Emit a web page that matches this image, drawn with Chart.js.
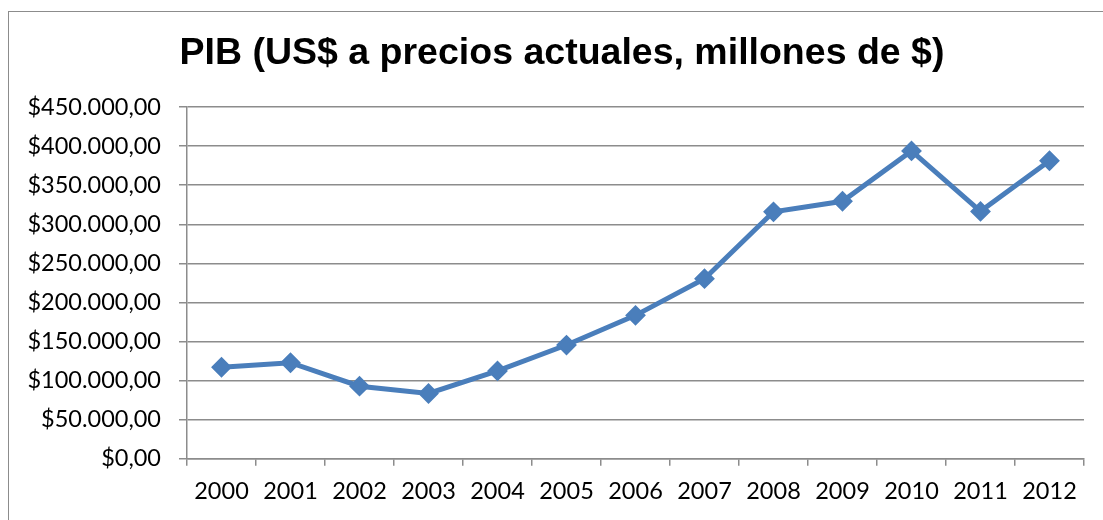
<!DOCTYPE html>
<html>
<head>
<meta charset="utf-8">
<script src="https://cdn.jsdelivr.net/npm/chart.js@4"></script>
<style>
  html, body { margin: 0; padding: 0; background: #fff; }
  #wrap { position: relative; width: 1103px; height: 520px; overflow: hidden; }
  #frame { position: absolute; left: 8px; top: 11px; right: -5px; bottom: -5px;
           border-left: 1.5px solid #8c8c8c; border-top: 1.5px solid #8c8c8c; pointer-events: none; }
  #title { position: absolute; left: 0; width: 1124px; top: 29px; text-align: center;
           font-family: "Liberation Sans", Arial, sans-serif; font-weight: bold; font-size: 37.5px;
           line-height: 45px; color: #000; white-space: nowrap; }
</style>
</head>
<body>
<div id="wrap">
  <canvas id="c" width="1103" height="520"></canvas>
  <div id="frame"></div>
  <div id="title"></div>
</div>
<script>
const titleText = 'PIB (US$ a precios actuales, millones de $)';
const years = ['2000','2001','2002','2003','2004','2005','2006','2007','2008','2009','2010','2011','2012'];
const gdp = [117147, 122910, 92893, 83529, 112453, 145513, 183478, 230364, 315953, 329419, 393806, 316482, 381286];
const yMin = 0;
const yMax = 450000;
const yStep = 50000;

document.getElementById('title').textContent = titleText;

function fmtMoney(v) {
  const s = Math.round(v).toString().replace(/\B(?=(\d{3})+(?!\d))/g, '.');
  return '$' + s + ',00';
}

const gridColor = '#8c8c8c';
const blue = '#4a7ebb';

new Chart(document.getElementById('c'), {
  type: 'line',
  data: {
    labels: years,
    datasets: [{
      data: gdp,
      borderColor: blue,
      backgroundColor: blue,
      borderWidth: 5,
      pointStyle: 'rectRot',
      pointRadius: 9,
      pointBorderWidth: 2,
      pointBackgroundColor: blue,
      pointBorderColor: blue,
      tension: 0,
      fill: false
    }]
  },
  options: {
    responsive: false,
    animation: false,
    events: [],
    layout: { padding: { left: 0, right: 19, top: 107, bottom: 2 } },
    plugins: {
      legend: { display: false },
      tooltip: { enabled: false },
      title: { display: false }
    },
    scales: {
      x: {
        offset: true,
        grid: { offset: true, drawOnChartArea: false, drawTicks: true, tickLength: 7, color: gridColor, lineWidth: 1.5 },
        border: { display: true, color: gridColor, width: 1.5 },
        ticks: { color: '#000', padding: 12, maxRotation: 0, autoSkip: false,
                 font: { family: 'Lato, "Open Sans", sans-serif', size: 23.5 } }
      },
      y: {
        min: yMin, max: yMax,
        afterFit: (s) => { s.width = 187; },
        grid: { drawTicks: true, tickLength: 8, color: gridColor, lineWidth: 1.5 },
        border: { display: true, color: gridColor, width: 1.5 },
        ticks: { stepSize: yStep, color: '#000', padding: 18,
                 font: { family: 'Lato, "Open Sans", sans-serif', size: 23.5 },
                 callback: (v) => fmtMoney(v) }
      }
    }
  }
});
</script>
</body>
</html>
